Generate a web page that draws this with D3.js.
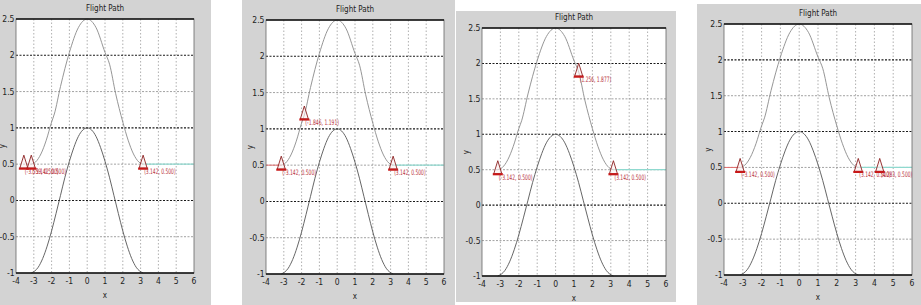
<!DOCTYPE html>
<meta charset="utf-8">
<title>Flight Path</title>
<style>
body { margin: 0; background: #fff; }
svg { display: block; }
text { font-family: "Liberation Sans Narrow", "DejaVu Sans Condensed", "Liberation Sans", sans-serif; }
</style>
<svg width="921" height="305"></svg>
<script src="https://d3js.org/d3.v7.min.js"></script>
<script>
// axis ticks
var xTicks = [-4, -3, -2, -1, 0, 1, 2, 3, 4, 5, 6];
var yTicks = [-1, -0.5, 0, 0.5, 1, 1.5, 2, 2.5];

// upper path
var upperX = [-3.142, -2.9, -2.6, -2.3, -2.0, -1.846, -1.5, -1.0, -0.5, 0, 0.5, 1.0, 1.256, 1.6, 2.0, 2.3, 2.6, 2.9, 3.142];
var upperY = [0.5, 0.53, 0.64, 0.83, 1.08, 1.191, 1.57, 2.04, 2.38, 2.5, 2.38, 2.04, 1.877, 1.47, 1.08, 0.83, 0.64, 0.53, 0.5];

// lower path
var lowerX = [-3.142, -2.75, -2.5, -2.25, -2.0, -1.75, -1.5, -1.25, -1.0, -0.75, -0.5, -0.25, 0, 0.25, 0.5, 0.75, 1.0, 1.25, 1.5, 1.75, 2.0, 2.25, 2.5, 2.75, 3.142];
var lowerY = [-1, -0.92, -0.80, -0.63, -0.42, -0.18, 0.07, 0.32, 0.54, 0.73, 0.88, 0.97, 1, 0.97, 0.88, 0.73, 0.54, 0.32, 0.07, -0.18, -0.42, -0.63, -0.80, -0.92, -1];

// data cursor markers, one set per panel
var markers1 = [[-3.559, 0.5, "(-3.559, 0.500)"], [-3.142, 0.5, "(-3.142, 0.500)"], [3.142, 0.5, "(3.142, 0.500)"]];
var markers2 = [[-3.142, 0.5, "(-3.142, 0.500)"], [-1.846, 1.191, "(-1.846, 1.191)"], [3.142, 0.5, "(3.142, 0.500)"]];
var markers3 = [[-3.142, 0.5, "(-3.142, 0.500)"], [1.256, 1.877, "(1.256, 1.877)"], [3.142, 0.5, "(3.142, 0.500)"]];
var markers4 = [[-3.142, 0.5, "(-3.142, 0.500)"], [3.142, 0.5, "(3.142, 0.500)"], [4.283, 0.5, "(4.283, 0.500)"]];

// threshold line segments [x0, x1, y]
var cyanLine = [3.142, 6, 0.5];
var redLine = [-4, -3.142, 0.5];

var svg = d3.select("svg");

var panels = [
  { bg: [0, 0, 211, 305], plot: [16, 19, 194, 273], markers: markers1, red: false },
  { bg: [242, 0, 455, 305], plot: [266, 20, 444, 274], markers: markers2, red: true },
  { bg: [456, 11, 676, 302], plot: [482, 28, 666, 276], markers: markers3, red: false },
  { bg: [697, 4, 921, 305], plot: [724, 24, 912, 275], markers: markers4, red: true }
];

panels.forEach(drawPanel);

function drawPanel(p) {
  var g = svg.append("g");
  var b = p.bg, r = p.plot;

  g.append("rect")
      .attr("x", b[0]).attr("y", b[1])
      .attr("width", b[2] - b[0]).attr("height", b[3] - b[1])
      .attr("fill", "#d3d3d3");

  var x = d3.scaleLinear().domain([-4, 6]).range([r[0], r[2]]);
  var y = d3.scaleLinear().domain([-1, 2.5]).range([r[3], r[1]]);

  g.append("rect")
      .attr("x", r[0]).attr("y", r[1])
      .attr("width", r[2] - r[0]).attr("height", r[3] - r[1])
      .attr("fill", "#fff");

  // grid
  g.selectAll(".vg").data(xTicks.slice(1, -1)).enter().append("line")
      .attr("x1", x).attr("x2", x)
      .attr("y1", r[1]).attr("y2", r[3])
      .attr("stroke", "#9a9a9a").attr("stroke-width", 0.8)
      .attr("stroke-dasharray", "1.5,2");

  g.selectAll(".hg").data(yTicks.slice(1, -1)).enter().append("line")
      .attr("x1", r[0]).attr("x2", r[2])
      .attr("y1", y).attr("y2", y)
      .attr("stroke", function(d) { return d % 1 === 0 ? "#1a1a1a" : "#8a8a8a"; })
      .attr("stroke-width", function(d) { return d % 1 === 0 ? 1.1 : 0.8; })
      .attr("stroke-dasharray", "2,1.5");

  // threshold lines
  g.append("line")
      .attr("x1", x(cyanLine[0])).attr("x2", x(cyanLine[1]))
      .attr("y1", y(cyanLine[2])).attr("y2", y(cyanLine[2]))
      .attr("stroke", "#8fd9cf").attr("stroke-width", 1.2);
  if (p.red) {
    g.append("line")
        .attr("x1", x(redLine[0])).attr("x2", x(redLine[1]))
        .attr("y1", y(redLine[2])).attr("y2", y(redLine[2]))
        .attr("stroke", "#e06a6a").attr("stroke-width", 1);
  }

  var line = d3.line().curve(d3.curveMonotoneX);

  g.append("path")
      .attr("d", line(upperX.map(function(v, i) { return [x(v), y(upperY[i])]; })))
      .attr("fill", "none").attr("stroke", "#8a8a8a").attr("stroke-width", 0.9);

  g.append("path")
      .attr("d", line(lowerX.map(function(v, i) { return [x(v), y(lowerY[i])]; })))
      .attr("fill", "none").attr("stroke", "#555").attr("stroke-width", 0.9);

  // box
  g.append("rect")
      .attr("x", r[0]).attr("y", r[1])
      .attr("width", r[2] - r[0]).attr("height", r[3] - r[1])
      .attr("fill", "none").attr("stroke", "#666").attr("stroke-width", 0.8);
  [r[1], r[3]].forEach(function(yy) {
    g.append("line")
        .attr("x1", r[0]).attr("x2", r[2])
        .attr("y1", yy).attr("y2", yy)
        .attr("stroke", "#111").attr("stroke-width", 1.6);
  });

  // markers
  var m = g.selectAll(".mk").data(p.markers).enter().append("g")
      .attr("transform", function(d) { return "translate(" + x(d[0]) + "," + y(d[1]) + ")"; });
  m.append("path")
      .attr("d", "M0,-9L4,4L-4,4Z")
      .attr("fill", "#fbeeee").attr("fill-opacity", 0.6)
      .attr("stroke", "#8b2020").attr("stroke-width", 0.9);
  m.append("line")
      .attr("x1", -5).attr("x2", 5).attr("y1", 4.5).attr("y2", 4.5)
      .attr("stroke", "#c81818").attr("stroke-width", 2.2);
  m.append("text")
      .attr("x", 1).attr("y", 10)
      .attr("font-size", 7.5)
      .attr("fill", "#b8323c")
      .attr("textLength", function(d) { return d[2].length * 2.25; })
      .attr("lengthAdjust", "spacingAndGlyphs")
      .text(function(d) { return d[2]; });

  // tick labels
  g.selectAll(".xt").data(xTicks).enter().append("text")
      .attr("x", x).attr("y", r[3] + 11)
      .attr("text-anchor", "middle")
      .attr("font-size", 8.5).attr("fill", "#222")
      .text(function(d) { return d; });

  g.selectAll(".yt").data(yTicks).enter().append("text")
      .attr("x", r[0] - 1.5).attr("y", function(d) { return y(d) + 3; })
      .attr("text-anchor", "end")
      .attr("font-size", 8.5).attr("fill", "#222")
      .text(function(d) { return d; });

  // title and axis labels
  g.append("text")
      .attr("x", (r[0] + r[2]) / 2).attr("y", r[1] - 8)
      .attr("text-anchor", "middle")
      .attr("font-size", 8).attr("fill", "#222")
      .text("Flight Path");

  g.append("text")
      .attr("x", (r[0] + r[2]) / 2).attr("y", r[3] + 25)
      .attr("text-anchor", "middle")
      .attr("font-size", 8).attr("fill", "#222")
      .text("x");

  g.append("text")
      .attr("transform", "translate(" + Math.max(r[0] - 13, 5) + "," + ((r[1] + r[3]) / 2) + ")rotate(-90)")
      .attr("text-anchor", "middle")
      .attr("font-size", 8).attr("fill", "#222")
      .text("y");
}
</script>
